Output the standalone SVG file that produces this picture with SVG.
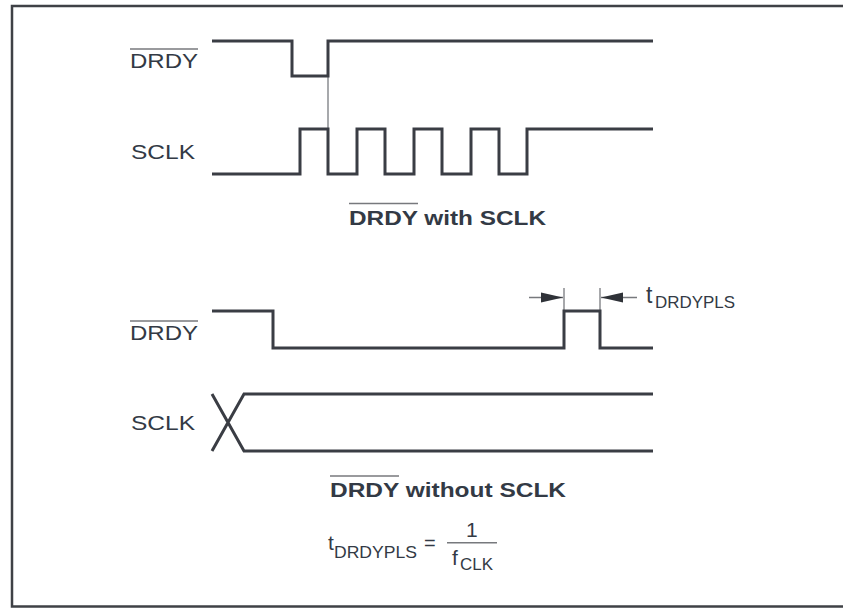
<svg xmlns="http://www.w3.org/2000/svg" width="843" height="608" viewBox="0 0 843 608">
<style>
text{font-family:"Liberation Sans",Arial,sans-serif;fill:#333a45}
.l{font-size:21px}
.b{font-size:21px;font-weight:bold}
.w{fill:none;stroke:#3a3d44;stroke-width:3}
.t{fill:none;stroke:#8a8c90;stroke-width:1.5}
.o{fill:none;stroke:#77797d;stroke-width:1.5}
</style>
<defs>
<marker id="a" markerUnits="userSpaceOnUse" markerWidth="22" markerHeight="12" refX="22" refY="6" orient="auto"><path d="M0 1L22 6L0 11Z" fill="#2f3238"/></marker>
</defs>
<rect x="0" y="0" width="843" height="608" fill="#fff"/>
<path id="frame" d="M843 6H12V606.500H843" fill="none" stroke="#3f4146" stroke-width="2.500"/>
<g id="connectors">
<path class="t" d="M328 76V129"/>
<path class="t" d="M564 288V310M600 288V310"/>
<path d="M529 297.500H563" class="o" marker-end="url(#a)"/>
<path d="M637 297.500H601" class="o" marker-end="url(#a)"/>
</g>
<g id="drdy-1"><path class="w" d="M212 41H292V76H328V41H653"/><text class="l" x="130" y="68" textLength="68" lengthAdjust="spacingAndGlyphs">DRDY</text><path class="o" d="M130 49H198"/></g>
<g id="sclk-1"><path class="w" d="M212 174H300V129H328V174H357V129H385V174H414V129H442V174H471V129H499V174H527V129H653"/><text class="l" x="131" y="159" textLength="64" lengthAdjust="spacingAndGlyphs">SCLK</text></g>
<g id="caption-1"><text class="b" x="349" y="225" textLength="197" lengthAdjust="spacingAndGlyphs">DRDY with SCLK</text><path class="o" d="M349 203.500H418"/></g>
<g id="drdy-2"><path class="w" d="M212 311H273V348H564V311H600V348H653"/><text class="l" x="130" y="340" textLength="68" lengthAdjust="spacingAndGlyphs">DRDY</text><path class="o" d="M130 321H198"/></g>
<g id="tlabel"><text x="646" y="303" font-size="23">t</text><text x="655" y="308" font-size="17" textLength="80" lengthAdjust="spacingAndGlyphs">DRDYPLS</text></g>
<g id="sclk-2"><path class="w" d="M212 394L244 451H653M212 451L244 394H653"/><text class="l" x="131" y="430" textLength="64" lengthAdjust="spacingAndGlyphs">SCLK</text></g>
<g id="caption-2"><text class="b" x="330" y="497" textLength="236" lengthAdjust="spacingAndGlyphs">DRDY without SCLK</text><path class="o" d="M330 476H399"/></g>
<g id="formula"><text x="328" y="550" font-size="21">t</text><text x="334" y="558" font-size="16.500" textLength="83" lengthAdjust="spacingAndGlyphs">DRDYPLS</text><text x="424" y="550" font-size="20">=</text><text x="466" y="537" font-size="21">1</text><path class="o" d="M447 542.700H497"/><text x="452" y="565" font-size="21">f</text><text x="460" y="570" font-size="16.500" textLength="33" lengthAdjust="spacingAndGlyphs">CLK</text></g>
</svg>
